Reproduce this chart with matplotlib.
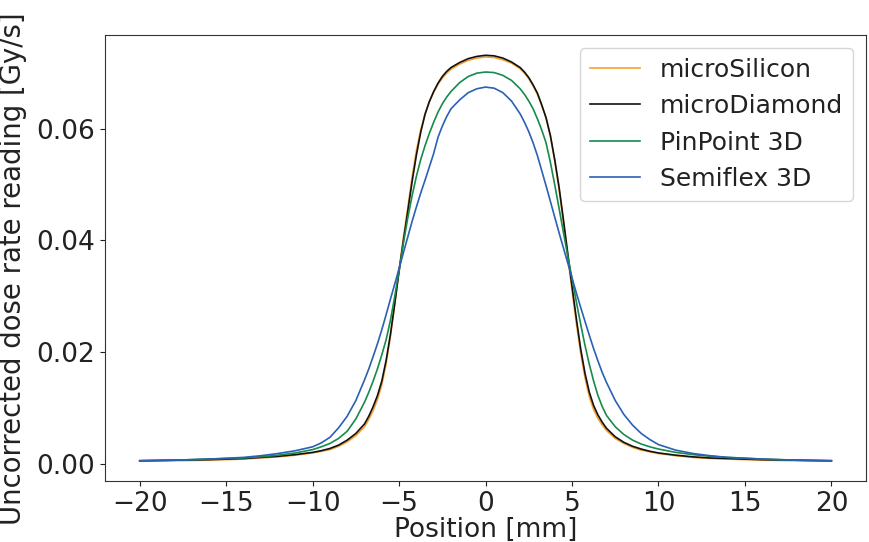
import matplotlib
matplotlib.use("Agg")
import matplotlib.pyplot as plt

# Positions [mm]
position = [-20, -18, -16, -14, -13, -12, -11, -10, -9.5, -9, -8.5, -8,
            -7.5, -7, -6.75, -6.5, -6.25, -6, -5.75, -5.5, -5.25, -5, -4.75, -4.5,
            -4.25, -4, -3.75, -3.5, -3.25, -3, -2.75, -2.5, -2.25, -2, -1.5, -1, -0.5, 0,
            0.5, 1, 1.5, 2, 2.25, 2.5, 2.75, 3, 3.25, 3.5, 3.75, 4,
            4.25, 4.5, 4.75, 5, 5.25, 5.5, 5.75, 6, 6.25, 6.5, 6.75, 7,
            7.5, 8, 8.5, 9, 9.5, 10, 11, 12, 13, 14, 16, 18, 20]

micro_silicon = [.0005, .0005, .0006, .0008, .0010, .0012, .0015, .0019, .0022, .0025, .0031, .0039,
                 .0050, .0066, .0079, .0095, .0115, .0141, .0179, .0228, .0286, .0348, .0405, .0458,
                 .0513, .0561, .0598, .0627, .0649, .0666, .0680, .0691, .0700, .0707, .0716, .0723,
                 .0727, .0729,
                 .0728, .0724, .0718, .0708, .0700, .0690, .0677, .0662, .0642, .0619, .0587, .0543,
                 .0492, .0433, .0372, .0311, .0252, .0198, .0154, .0120, .0097, .0081, .0069, .0059,
                 .0045, .0036, .0029, .0024, .0021, .0018, .0014, .0011, .0009, .0008, .0006, .0005,
                 .0005]

micro_diamond = [.0005, .0006, .0007, .0009, .0011, .0013, .0016, .0020, .0023, .0027, .0033, .0042,
                 .0054, .0071, .0085, .0102, .0122, .0148, .0185, .0232, .0287, .0345, .0400, .0452,
                 .0505, .0553, .0594, .0626, .0649, .0667, .0682, .0694, .0703, .0710, .0719, .0726,
                 .0730, .0732,
                 .0731, .0727, .0720, .0710, .0702, .0692, .0679, .0664, .0643, .0620, .0588, .0545,
                 .0496, .0438, .0378, .0318, .0260, .0206, .0162, .0128, .0104, .0087, .0074, .0063,
                 .0048, .0038, .0031, .0026, .0022, .0019, .0015, .0012, .0010, .0009, .0007, .0006,
                 .0005]

pinpoint_3d = [.0005, .0006, .0008, .0010, .0012, .0015, .0019, .0025, .0030, .0036, .0045, .0058,
               .0080, .0110, .0128, .0148, .0170, .0195, .0222, .0257, .0300, .0346, .0395, .0440,
               .0480, .0515, .0545, .0570, .0592, .0612, .0630, .0645, .0657, .0667, .0683, .0694,
               .0700, .0702,
               .0701, .0696, .0687, .0672, .0662, .0650, .0636, .0618, .0598, .0575, .0540, .0500,
               .0458, .0415, .0373, .0332, .0290, .0250, .0212, .0178, .0148, .0122, .0102, .0086,
               .0066, .0052, .0042, .0035, .0030, .0026, .0020, .0016, .0013, .0011, .0008, .0006,
               .0005]

semiflex_3d = [.0005, .0006, .0008, .0011, .0014, .0018, .0023, .0030, .0037, .0047, .0064, .0085,
               .0113, .0150, .0170, .0192, .0215, .0240, .0267, .0295, .0322, .0350, .0378, .0406,
               .0434, .0460, .0485, .0508, .0532, .0556, .0585, .0605, .0622, .0636, .0652, .0665,
               .0672, .0675,
               .0673, .0665, .0650, .0627, .0612, .0595, .0575, .0552, .0525, .0498, .0470, .0442,
               .0414, .0387, .0360, .0333, .0306, .0280, .0255, .0230, .0206, .0184, .0163, .0145,
               .0113, .0088, .0069, .0054, .0043, .0034, .0024, .0018, .0014, .0011, .0008, .0006,
               .0005]

labels = ["microSilicon", "microDiamond", "PinPoint 3D", "Semiflex 3D"]
colors = ["#f5a030", "#111111", "#178a4c", "#2a60b5"]
series = [micro_silicon, micro_diamond, pinpoint_3d, semiflex_3d]

fig = plt.figure(figsize=(8.69, 5.42), dpi=100)
ax = fig.add_axes([0.121, 0.1125, 0.8755, 0.8229])
for vals, lab, col in zip(series, labels, colors):
    ax.plot(position, vals, color=col, lw=1.2, label=lab)

ax.set_xticks([-20, -15, -10, -5, 0, 5, 10, 15, 20])
ax.set_yticks([0.00, 0.02, 0.04, 0.06])
ax.tick_params(labelsize=19, colors="#222222")
ax.set_xlabel("Position [mm]", fontsize=19, color="#222222", labelpad=0)
ax.set_ylabel("Uncorrected dose rate reading [Gy/s]", fontsize=19.8, color="#222222")
ax.yaxis.set_label_coords(-0.1025, 0.475)
for s in ax.spines.values():
    s.set_color("#333333")
leg = ax.legend(loc="upper right", fontsize=18, frameon=True, fancybox=True)
leg.get_frame().set_edgecolor("#cccccc")
for t in leg.get_texts():
    t.set_color("#222222")
fig.savefig("out.png", dpi=100)
